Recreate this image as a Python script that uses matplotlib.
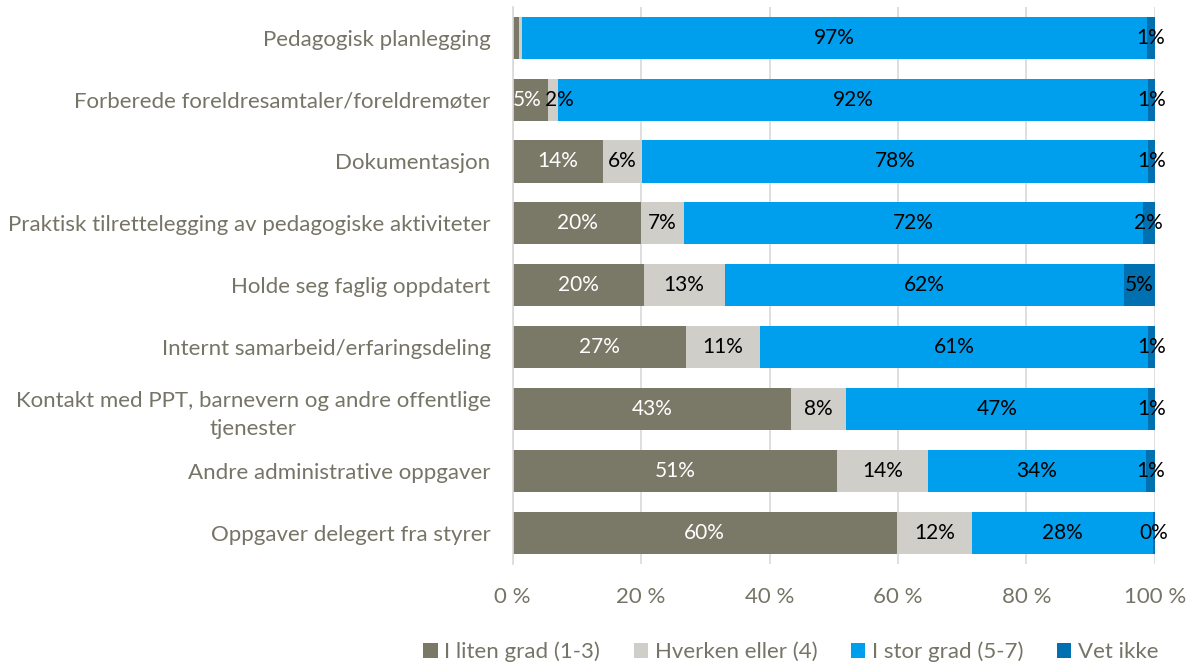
import matplotlib
matplotlib.use('Agg')
import matplotlib.pyplot as plt
from matplotlib.ticker import FuncFormatter
import numpy as np

plt.rcParams['font.family'] = ['Lato', 'DejaVu Sans']

categories = ['Pedagogisk planlegging',
              'Forberede foreldresamtaler/foreldremøter',
              'Dokumentasjon',
              'Praktisk tilrettelegging av pedagogiske aktiviteter',
              'Holde seg faglig oppdatert',
              'Internt samarbeid/erfaringsdeling',
              'Kontakt med PPT, barnevern og andre offentlige\ntjenester',
              'Andre administrative oppgaver',
              'Oppgaver delegert fra styrer']

series_names = ['I liten grad (1-3)', 'Hverken eller (4)', 'I stor grad (5-7)', 'Vet ikke']

liten = [0.9, 5.5, 14.0, 20.0, 20.4, 27.0, 43.3, 50.5, 59.8]
hverken = [0.5, 1.5, 6.2, 6.7, 12.6, 11.5, 8.6, 14.2, 11.7]
stor = [97.4, 92.0, 78.8, 71.4, 62.2, 60.5, 47.1, 33.9, 28.2]
vet_ikke = [1.2, 1.0, 1.0, 1.9, 4.8, 1.0, 1.0, 1.4, 0.3]

labels_liten = ['', '5%', '14%', '20%', '20%', '27%', '43%', '51%', '60%']
labels_hverken = ['', '2%', '6%', '7%', '13%', '11%', '8%', '14%', '12%']
labels_stor = ['97%', '92%', '78%', '72%', '62%', '61%', '47%', '34%', '28%']
labels_vet = ['1%', '1%', '1%', '2%', '5%', '1%', '1%', '1%', '0%']

colors = ['#7a7867', '#d0cec9', '#009fee', '#0070b0']
text_colors = ['white', 'black', 'black', 'black']
label_gray = '#767466'
fs = 16
fs_val = 15

fig = plt.figure(figsize=(11.98, 6.72), dpi=100)
ax = fig.add_axes([0.428, 0.161, 0.536, 0.829])

y = np.arange(len(categories))
left = np.zeros(len(categories))
data = [liten, hverken, stor, vet_ikke]
labels = [labels_liten, labels_hverken, labels_stor, labels_vet]
# small horizontal nudge (points) so tight neighbouring labels don't collide
nudge = [-2.5, 4.5, 0, 0]

for vals, labs, col, tcol, name, dx in zip(data, labels, colors, text_colors, series_names, nudge):
    vals = np.array(vals)
    ax.barh(y, vals, left=left, height=0.68, color=col, label=name, zorder=2)
    for yi, (l, v, t) in enumerate(zip(left, vals, labs)):
        if not t:
            continue
        off = dx if v < 3 or (dx < 0 and v < 7) else 0
        ax.annotate(t, (l + v / 2, yi), xytext=(off, 0), textcoords='offset points',
                    ha='center', va='center', color=tcol, fontsize=fs_val, zorder=3)
    left = left + vals

ax.set_xlim(0, 100)
ax.set_ylim(len(categories) - 0.5, -0.5)
ax.set_yticks(y)
ax.set_yticklabels(categories, fontsize=fs, color=label_gray, multialignment='center',
                   linespacing=1.5)
ax.set_xticks(np.arange(0, 101, 20))
ax.xaxis.set_major_formatter(FuncFormatter(lambda v, p: '%d %%' % v))
ax.tick_params(axis='x', labelsize=fs, labelcolor=label_gray, length=0, pad=17)
ax.tick_params(axis='y', length=0, pad=16)
ax.grid(axis='x', color='#d9d9d9', linewidth=1.2, zorder=0)
for s in ['top', 'right', 'bottom']:
    ax.spines[s].set_visible(False)
ax.spines['left'].set_color('#d9d9d9')
ax.spines['left'].set_linewidth(1.2)

leg = fig.legend(loc='lower center', bbox_to_anchor=(0.66, -0.015), ncol=4, frameon=False,
                 fontsize=fs, handlelength=0.65, handleheight=0.65, handletextpad=0.3,
                 columnspacing=1.5)
for t in leg.get_texts():
    t.set_color(label_gray)

fig.savefig('out.png', dpi=100)
